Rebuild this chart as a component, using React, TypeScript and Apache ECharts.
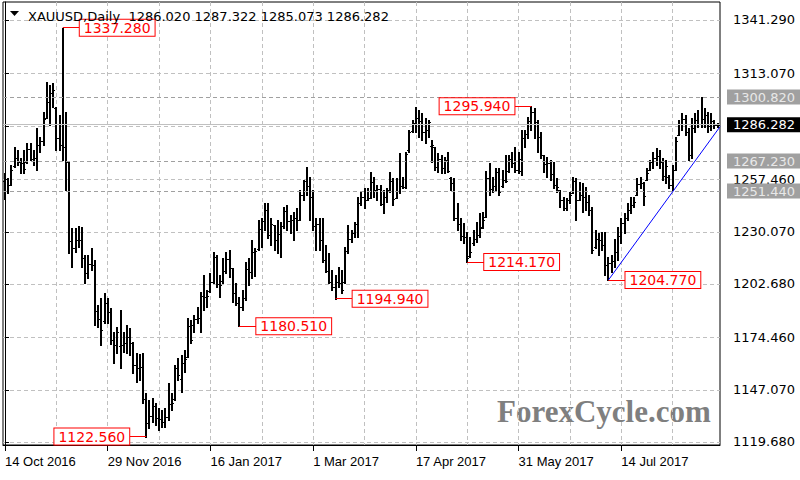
import React, { useEffect, useRef } from "react";
import * as echarts from "echarts";

// ---- axis ticks / labels ----
const tickIndex = [0, 32, 64, 96, 128, 160, 192];
const tickLabels = ["14 Oct 2016", "29 Nov 2016", "16 Jan 2017", "1 Mar 2017", "17 Apr 2017", "31 May 2017", "14 Jul 2017"];
const vGridIndex = [0, 16, 32, 48, 64, 80, 96, 112, 128, 144, 160, 176, 192, 208];
const yTickValues = [1119.68, 1147.07, 1174.46, 1202.68, 1230.07, 1257.46, 1285.27, 1313.07, 1341.29];
const yLabelValues = [1119.68, 1147.07, 1174.46, 1202.68, 1230.07, 1257.46, 1313.07, 1341.29];

// ---- daily OHLC (XAUUSD, 14 Oct 2016 -> Aug 2017) ----
const opens = [
  1257.0, 1251.5, 1254.8, 1264.5, 1269.0, 1266.5, 1266.0, 1266.5, 1273.5, 1268.5,
  1269.0, 1275.5, 1277.5, 1289.8, 1298.0, 1303.0, 1295.0, 1279.5, 1275.5, 1274.5,
  1266.5, 1225.0, 1221.5, 1225.5, 1226.0, 1216.5, 1208.5, 1213.0, 1212.5, 1188.5,
  1184.5, 1183.0, 1192.5, 1188.0, 1173.5, 1170.5, 1170.0, 1170.5, 1171.5, 1175.0,
  1171.5, 1160.0, 1158.5, 1159.0, 1142.5, 1129.5, 1133.5, 1138.5, 1132.5, 1131.5,
  1130.0, 1133.0, 1139.5, 1142.0, 1158.5, 1152.5, 1161.0, 1164.5, 1180.5, 1181.0,
  1184.5, 1185.0, 1196.5, 1196.0, 1199.0, 1203.5, 1217.0, 1202.5, 1204.0, 1209.5,
  1216.0, 1211.0, 1198.0, 1192.5, 1190.5, 1195.5, 1210.5, 1209.0, 1219.5, 1221.0,
  1231.5, 1235.5, 1241.5, 1228.5, 1233.6, 1226.0, 1229.0, 1233.0, 1241.0, 1235.5,
  1236.0, 1237.5, 1236.5, 1249.5, 1257.0, 1254.0, 1248.5, 1233.0, 1234.0, 1226.0,
  1215.5, 1209.5, 1203.5, 1201.0, 1203.5, 1203.0, 1203.5, 1220.0, 1226.5, 1229.5,
  1234.0, 1245.0, 1248.5, 1247.0, 1248.0, 1256.0, 1252.0, 1252.5, 1244.5, 1248.5,
  1252.0, 1256.5, 1247.8, 1251.5, 1254.0, 1253.5, 1273.0, 1283.0, 1287.0, 1290.0,
  1288.5, 1282.5, 1283.5, 1275.0, 1274.6, 1264.0, 1268.5, 1263.5, 1268.0, 1258.5,
  1255.5, 1237.5, 1234.0, 1228.0, 1227.5, 1217.5, 1224.0, 1226.5, 1228.5, 1232.5,
  1238.0, 1258.5, 1252.5, 1254.0, 1261.5, 1254.0, 1257.5, 1262.0, 1268.5, 1266.0,
  1262.5, 1262.0, 1279.5, 1281.5, 1288.5, 1293.0, 1287.5, 1280.0, 1270.4, 1265.5,
  1266.0, 1260.5, 1254.5, 1252.0, 1246.5, 1242.5, 1246.5, 1250.5, 1256.5, 1246.8,
  1249.5, 1248.5, 1245.5, 1241.5, 1222.0, 1226.5, 1226.0, 1223.0, 1212.5, 1213.5,
  1214.5, 1219.5, 1228.0, 1234.5, 1237.5, 1241.5, 1244.0, 1249.5, 1255.0, 1255.5,
  1257.5, 1262.5, 1266.5, 1269.0, 1270.0, 1266.5, 1259.5, 1259.0, 1254.5, 1262.5,
  1281.0, 1286.5, 1289.5, 1282.5, 1270.5, 1284.5, 1289.0, 1286.5, 1289.5, 1291.5,
  1285.5, 1288.5, 1286.02
];
const highs = [
  1260.9, 1258.3, 1265.1, 1274.6, 1273.0, 1268.8, 1273.0, 1276.7, 1276.7, 1273.0,
  1284.6, 1279.8, 1293.0, 1308.7, 1307.2, 1308.2, 1295.6, 1291.4, 1337.28, 1293.0,
  1266.7, 1232.1, 1232.1, 1233.1, 1232.6, 1217.9, 1217.9, 1221.6, 1215.3, 1191.6,
  1195.3, 1197.9, 1195.3, 1190.0, 1177.6, 1180.2, 1189.0, 1177.6, 1181.1, 1179.4,
  1172.4, 1166.3, 1165.9, 1166.3, 1145.2, 1141.7, 1142.8, 1140.0, 1137.4, 1136.5,
  1137.5, 1150.7, 1145.4, 1160.1, 1163.8, 1165.4, 1168.0, 1184.8, 1183.7, 1186.4,
  1190.6, 1198.5, 1207.4, 1199.5, 1208.4, 1219.5, 1217.9, 1207.4, 1216.3, 1219.5,
  1220.5, 1211.1, 1203.2, 1195.8, 1199.5, 1214.2, 1216.3, 1225.8, 1221.6, 1236.3,
  1237.3, 1245.2, 1245.2, 1237.3, 1233.6, 1236.3, 1235.2, 1243.1, 1244.1, 1238.9,
  1240.5, 1242.6, 1252.0, 1257.3, 1264.1, 1258.8, 1252.0, 1237.3, 1237.3, 1237.3,
  1223.1, 1218.9, 1210.0, 1207.4, 1211.6, 1210.0, 1222.1, 1233.6, 1231.0, 1235.2,
  1248.3, 1251.0, 1253.1, 1253.1, 1261.5, 1258.8, 1254.6, 1254.6, 1252.0, 1253.1,
  1261.5, 1258.3, 1258.3, 1271.4, 1258.8, 1272.0, 1283.5, 1288.8, 1295.4, 1294.0,
  1292.4, 1289.8, 1288.8, 1278.3, 1274.6, 1271.4, 1270.4, 1269.4, 1272.0, 1258.8,
  1258.3, 1245.2, 1237.3, 1234.7, 1230.0, 1227.3, 1231.0, 1235.2, 1239.9, 1240.5,
  1262.0, 1266.2, 1258.8, 1263.6, 1263.6, 1262.5, 1270.4, 1270.4, 1272.0, 1274.6,
  1272.0, 1283.5, 1283.5, 1290.4, 1295.94, 1295.1, 1288.8, 1282.5, 1270.4, 1269.4,
  1268.0, 1266.7, 1258.3, 1252.0, 1248.3, 1247.8, 1251.0, 1258.8, 1258.3, 1256.2,
  1255.7, 1253.6, 1249.4, 1243.1, 1231.0, 1229.4, 1230.0, 1230.0, 1216.8, 1217.9,
  1226.3, 1232.6, 1237.3, 1239.9, 1245.2, 1248.3, 1248.3, 1258.3, 1258.8, 1256.2,
  1263.6, 1267.8, 1272.0, 1274.1, 1273.0, 1268.8, 1267.8, 1259.9, 1265.1, 1279.9,
  1288.8, 1292.4, 1291.4, 1284.6, 1289.8, 1292.4, 1294.0, 1300.82, 1295.1, 1293.0,
  1292.4, 1288.8, 1287.322
];
const lows = [
  1247.5, 1250.4, 1254.6, 1264.1, 1265.1, 1260.9, 1260.9, 1266.2, 1267.8, 1265.1,
  1262.5, 1272.0, 1275.6, 1289.8, 1286.1, 1295.6, 1273.0, 1273.0, 1267.8, 1252.0,
  1219.0, 1211.6, 1219.5, 1222.1, 1211.6, 1203.2, 1205.8, 1210.0, 1181.1, 1180.1,
  1170.6, 1182.2, 1182.2, 1171.0, 1160.9, 1166.3, 1158.4, 1167.1, 1166.3, 1165.4,
  1155.8, 1151.4, 1152.2, 1140.0, 1122.56, 1126.9, 1130.3, 1128.6, 1126.0, 1127.6,
  1127.6, 1131.2, 1136.5, 1141.7, 1152.2, 1145.9, 1156.4, 1164.3, 1171.7, 1177.4,
  1182.2, 1177.4, 1189.0, 1190.6, 1198.5, 1203.2, 1201.1, 1195.8, 1203.2, 1208.4,
  1206.3, 1193.2, 1191.6, 1180.51, 1189.0, 1194.3, 1202.1, 1205.8, 1206.9, 1220.5,
  1222.1, 1231.0, 1226.8, 1223.1, 1220.5, 1218.9, 1216.8, 1232.1, 1231.0, 1229.4,
  1225.8, 1231.0, 1236.3, 1246.8, 1249.4, 1236.3, 1231.0, 1220.5, 1220.5, 1214.2,
  1209.0, 1203.2, 1199.5, 1194.94, 1201.1, 1197.9, 1203.2, 1218.9, 1224.7, 1227.3,
  1227.3, 1244.1, 1242.6, 1246.8, 1247.8, 1248.3, 1246.8, 1244.1, 1239.9, 1245.7,
  1251.0, 1244.1, 1247.8, 1250.4, 1253.1, 1253.1, 1272.0, 1282.5, 1282.5, 1279.9,
  1278.3, 1276.7, 1279.9, 1266.7, 1262.5, 1261.5, 1260.9, 1260.9, 1261.5, 1252.0,
  1236.3, 1231.0, 1225.8, 1224.2, 1214.17, 1216.8, 1223.1, 1224.7, 1227.3, 1232.1,
  1238.0, 1249.4, 1251.0, 1252.0, 1249.4, 1253.6, 1256.2, 1261.5, 1264.1, 1261.5,
  1260.9, 1259.9, 1274.6, 1279.3, 1283.5, 1279.3, 1272.0, 1268.8, 1261.5, 1258.8,
  1257.5, 1253.1, 1251.0, 1243.1, 1241.5, 1241.5, 1245.2, 1250.4, 1236.3, 1246.8,
  1240.5, 1241.5, 1238.9, 1218.9, 1221.6, 1217.9, 1220.5, 1207.4, 1204.77, 1208.9,
  1211.6, 1215.3, 1224.2, 1229.4, 1236.3, 1239.9, 1243.1, 1249.4, 1253.1, 1244.1,
  1257.3, 1262.5, 1263.6, 1265.1, 1263.6, 1257.3, 1255.7, 1253.1, 1252.0, 1262.5,
  1280.9, 1283.5, 1280.9, 1267.8, 1268.8, 1282.5, 1285.1, 1285.1, 1285.1, 1282.5,
  1283.5, 1284.6, 1285.073
];
const closes = [
  1251.5, 1254.5, 1262.5, 1269.0, 1266.5, 1266.0, 1263.0, 1273.5, 1268.5, 1269.0,
  1275.5, 1277.5, 1289.5, 1298.0, 1303.0, 1304.5, 1279.5, 1275.5, 1274.5, 1266.5,
  1225.0, 1221.5, 1225.5, 1226.0, 1216.5, 1208.5, 1213.0, 1212.5, 1188.5, 1184.5,
  1178.5, 1192.5, 1188.0, 1173.5, 1170.5, 1177.5, 1170.5, 1171.5, 1175.0, 1171.5,
  1160.0, 1158.5, 1159.0, 1142.5, 1129.5, 1133.5, 1138.5, 1132.5, 1131.5, 1130.0,
  1133.0, 1139.5, 1140.0, 1158.5, 1155.0, 1161.0, 1163.5, 1180.5, 1173.0, 1184.5,
  1185.0, 1196.5, 1196.0, 1196.5, 1203.5, 1217.0, 1202.5, 1202.0, 1209.5, 1216.0,
  1211.0, 1198.0, 1192.5, 1190.5, 1195.5, 1210.5, 1209.0, 1219.5, 1220.0, 1231.5,
  1235.5, 1241.5, 1228.5, 1234.0, 1226.0, 1229.0, 1233.0, 1241.0, 1235.5, 1236.0,
  1237.5, 1236.0, 1249.5, 1257.0, 1254.0, 1248.5, 1233.0, 1234.0, 1226.0, 1215.5,
  1209.5, 1203.5, 1201.0, 1203.5, 1203.0, 1199.5, 1220.0, 1226.5, 1229.5, 1234.0,
  1245.0, 1248.5, 1247.0, 1248.0, 1256.0, 1252.0, 1252.5, 1244.5, 1248.5, 1252.0,
  1256.5, 1247.5, 1251.5, 1254.0, 1253.5, 1271.0, 1282.5, 1287.0, 1290.0, 1288.5,
  1282.5, 1283.5, 1287.5, 1275.5, 1264.0, 1268.5, 1263.5, 1268.0, 1262.0, 1255.5,
  1237.5, 1234.0, 1228.0, 1227.5, 1216.5, 1219.5, 1226.5, 1228.5, 1232.0, 1236.5,
  1258.5, 1252.5, 1254.0, 1261.5, 1251.0, 1257.5, 1257.0, 1268.5, 1266.0, 1262.5,
  1268.5, 1279.5, 1281.5, 1288.5, 1293.0, 1287.5, 1280.0, 1270.5, 1265.5, 1266.0,
  1260.5, 1254.5, 1253.5, 1246.5, 1242.5, 1246.5, 1249.5, 1256.5, 1246.5, 1249.5,
  1248.5, 1245.5, 1241.5, 1220.5, 1226.5, 1226.0, 1223.0, 1212.5, 1213.5, 1214.5,
  1219.5, 1228.0, 1234.5, 1237.5, 1241.5, 1244.0, 1245.5, 1255.0, 1255.5, 1249.0,
  1261.0, 1266.5, 1269.0, 1270.0, 1266.5, 1259.5, 1264.5, 1254.5, 1262.5, 1278.0,
  1286.5, 1289.5, 1282.5, 1270.5, 1284.5, 1289.0, 1286.5, 1289.5, 1291.5, 1285.5,
  1288.5, 1286.0, 1286.282
];

// ---- annotations ----
const headerText = "XAUUSD,Daily  1286.020 1287.322 1285.073 1286.282";
const swingIndex = [18, 44, 73, 103, 144, 164, 188];
const swingValue = [1337.28, 1122.56, 1180.51, 1194.94, 1214.17, 1295.94, 1204.77];
const swingSide = [1, -1, 1, 1, 1, -1, 1];
const levelValues = [1300.82, 1267.23, 1251.44];
const lastPrice = 1286.282;
const trendLine = [[188, 1204.77], [222.74, 1285.25]];

const FONT = "DejaVu Sans";

export default function App() {
  const ref = useRef<HTMLDivElement>(null);
  useEffect(() => {
    if (!ref.current) return;
    const chart = echarts.init(ref.current, undefined, { renderer: "svg" });
    const barData = opens.map((o, i) => [i, o, highs[i], lows[i], closes[i]]);

    const swingMarks = swingIndex.map((i, k) => [
      {
        coord: [i, swingValue[k]],
        lineStyle: { color: "#ff0000", width: 1, type: "solid" },
        label: {
          show: true,
          position: "end",
          distance: 0,
          formatter: swingValue[k].toFixed(3),
          color: "#ff0000",
          backgroundColor: "#ffffff",
          borderColor: "#ff0000",
          borderWidth: 1,
          padding: [1, 4, 1, 4],
          fontFamily: FONT,
          fontSize: 14,
        },
      },
      { coord: [i + swingSide[k] * 5.3, swingValue[k]] },
    ]);

    const levelMarks = levelValues.map((v) => ({
      yAxis: v,
      lineStyle: { color: "#a0a0a0", width: 1, type: [4, 3] },
      label: {
        show: true,
        position: "end",
        distance: 7,
        formatter: v.toFixed(3),
        color: "#e8e8e8",
        backgroundColor: "#a0a0a0",
        padding: [1, 6, 1, 6],
        fontFamily: FONT,
        fontSize: 13,
      },
    }));

    const lastMark = {
      yAxis: lastPrice,
      lineStyle: { color: "#c0c0c0", width: 1, type: "solid" },
      label: {
        show: true,
        position: "end",
        distance: 7,
        formatter: lastPrice.toFixed(3),
        color: "#ffffff",
        backgroundColor: "#000000",
        padding: [1, 6, 1, 6],
        fontFamily: FONT,
        fontSize: 13,
      },
    };

    chart.setOption({
      animation: false,
      backgroundColor: "#ffffff",
      grid: {
        left: 3,
        top: 2,
        right: 80,
        bottom: 35,
        show: true,
        borderColor: "#000000",
        borderWidth: 1,
        backgroundColor: "transparent",
      },
      xAxis: [
        {
          type: "value",
          min: -0.62,
          max: 222.74,
          position: "bottom",
          axisLine: { show: true, onZero: false, lineStyle: { color: "#000" } },
          axisTick: { show: true, customValues: tickIndex, length: 6, lineStyle: { color: "#000" } },
          axisLabel: {
            show: true,
            customValues: tickIndex,
            formatter: (v: number) => tickLabels[tickIndex.indexOf(Math.round(v))] ?? "",
            align: "left",
            margin: 10,
            color: "#000",
            fontFamily: "Liberation Sans",
            fontSize: 13,
          },
          splitLine: { show: false },
        },
        {
          type: "value",
          min: -0.62,
          max: 222.74,
          position: "bottom",
          axisLine: { show: false },
          axisTick: { show: false, customValues: vGridIndex },
          axisLabel: { show: false },
          splitLine: { show: true, lineStyle: { color: "#c0c0c0", width: 1, type: [4, 3] } },
        },
      ],
      yAxis: {
        type: "value",
        position: "right",
        min: 1118.1,
        max: 1350.74,
        axisLine: { show: true, lineStyle: { color: "#000" } },
        axisTick: { show: true, customValues: yTickValues, length: 4, lineStyle: { color: "#000" } },
        axisLabel: {
          customValues: yLabelValues,
          formatter: (v: number) => v.toFixed(3),
          margin: 13,
          color: "#000",
          fontFamily: FONT,
          fontSize: 13,
        },
        splitLine: { show: true, lineStyle: { color: "#c0c0c0", width: 1, type: [4, 3] } },
      },
      graphic: [
        { type: "polygon", shape: { points: [[10, 11], [19, 11], [14.5, 16]] }, style: { fill: "#000" } },
        {
          type: "text",
          x: 28,
          y: 16,
          style: { text: headerText, font: `13px "${FONT}"`, fill: "#000", verticalAlign: "middle" },
          z: 10,
        },
        {
          type: "text",
          x: 497,
          y: 411,
          style: {
            text: "ForexCycle.com",
            font: 'bold 31px "Liberation Serif"',
            fill: "#7f7f7f",
            verticalAlign: "middle",
          },
        },
      ],
      series: [
        {
          type: "custom",
          xAxisIndex: 0,
          yAxisIndex: 0,
          clip: true,
          encode: { x: 0, y: [1, 2, 3, 4] },
          data: barData,
          renderItem: (_params: any, api: any) => {
            const i = api.value(0);
            const po = api.coord([i, api.value(1)]);
            const ph = api.coord([i, api.value(2)]);
            const pl = api.coord([i, api.value(3)]);
            const pc = api.coord([i, api.value(4)]);
            const x = Math.round(ph[0]);
            const yo = Math.round(po[1]) + 0.5;
            const yc = Math.round(pc[1]) + 0.5;
            return {
              type: "group",
              children: [
                { type: "line", shape: { x1: x, y1: Math.round(ph[1]), x2: x, y2: Math.round(pl[1]) + 1 }, style: { stroke: "#000", lineWidth: 2 } },
                { type: "line", shape: { x1: x - 2, y1: yo, x2: x, y2: yo }, style: { stroke: "#000", lineWidth: 1 } },
                { type: "line", shape: { x1: x, y1: yc, x2: x + 2, y2: yc }, style: { stroke: "#000", lineWidth: 1 } },
              ],
            };
          },
        },
        {
          type: "line",
          xAxisIndex: 0,
          yAxisIndex: 0,
          data: trendLine,
          symbol: "none",
          lineStyle: { color: "#0000ff", width: 1 },
          z: 4,
          markLine: {
            silent: true,
            symbol: ["none", "none"],
            animation: false,
            data: [...levelMarks, lastMark, ...swingMarks],
          },
        },
      ],
    });
    return () => chart.dispose();
  }, []);
  return <div ref={ref} style={{ position: "fixed", left: 0, top: 0, width: 800, height: 480 }} />;
}
